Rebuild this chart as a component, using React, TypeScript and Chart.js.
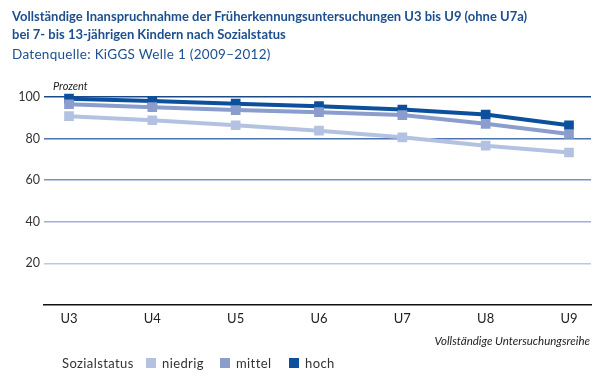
import React, { useEffect, useRef } from "react";
import { Chart, registerables } from "chart.js";

Chart.register(...registerables);

const categories = ["U3", "U4", "U5", "U6", "U7", "U8", "U9"];
const niedrig = [90.8, 88.8, 86.4, 83.8, 80.6, 76.6, 73.3];
const mittel = [96.5, 95.1, 93.7, 92.7, 91.3, 87.1, 82.2];
const hoch = [99.2, 98.1, 96.8, 95.6, 94.0, 91.6, 86.4];
const yTicks = [0, 20, 40, 60, 80, 100];

const colNiedrig = "#b4c2e2";
const colMittel = "#8a9dcc";
const colHoch = "#0c4f9c";
const gridColors: Record<number, string> = {
  100: "#1c4a88",
  80: "#4f73b0",
  60: "#7693c8",
  40: "#9db0d9",
  20: "#b9c8e8",
  0: "rgba(0,0,0,0)",
};

const FONT = "Lato, 'Open Sans', sans-serif";

export default function App() {
  const ref = useRef<HTMLCanvasElement | null>(null);

  useEffect(() => {
    if (!ref.current) return;
    const mk = (label: string, values: number[], color: string) => ({
      label,
      data: values.map((v, i) => ({ x: i, y: v })),
      borderColor: color,
      backgroundColor: color,
      borderWidth: 4,
      pointStyle: "rect" as const,
      pointRadius: 4,
      pointHoverRadius: 4,
      clip: false as const,
    });
    const chart = new Chart(ref.current, {
      type: "line",
      data: {
        datasets: [
          mk("niedrig", niedrig, colNiedrig),
          mk("mittel", mittel, colMittel),
          mk("hoch", hoch, colHoch),
        ],
      },
      options: {
        animation: false,
        responsive: false,
        maintainAspectRatio: false,
        layout: { padding: { top: 97, right: 13, left: 0, bottom: 0 } },
        plugins: { legend: { display: false }, tooltip: { enabled: false } },
        scales: {
          x: {
            type: "linear",
            min: -0.3,
            max: 6.264,
            afterBuildTicks: (axis: any) => {
              axis.ticks = categories.map((_, i) => ({ value: i }));
            },
            afterFit: (axis: any) => {
              axis.height = 79;
            },
            ticks: {
              padding: 6,
              color: "#222",
              font: { family: FONT, size: 13 },
              callback: (v: any) => categories[Number(v)] ?? "",
              maxRotation: 0,
              autoSkip: false,
            },
            grid: { display: false, drawTicks: false },
            border: { display: true, color: "#111", width: 1.5 },
          },
          y: {
            min: 0,
            max: 100,
            afterBuildTicks: (axis: any) => {
              axis.ticks = yTicks.map((v) => ({ value: v }));
            },
            afterFit: (axis: any) => {
              axis.width = 44;
            },
            ticks: {
              padding: 4,
              color: "#333",
              font: { family: FONT, size: 12.5 },
              callback: (v: any) => (Number(v) === 0 ? "" : String(v)),
            },
            grid: {
              drawTicks: false,
              lineWidth: 1.5,
              color: (ctx: any) => gridColors[ctx.tick?.value] ?? "#ccc",
            },
            border: { display: false },
          },
        },
      },
    });
    return () => chart.destroy();
  }, []);

  const legendItem = (label: string, color: string, left: number) => (
    <div
      style={{
        position: "absolute",
        left,
        top: 355,
        display: "flex",
        alignItems: "center",
        fontSize: 13,
        letterSpacing: 0.4,
        color: "#333",
      }}
    >
      <span
        style={{ display: "inline-block", width: 10, height: 10, background: color, marginRight: 6 }}
      />
      {label}
    </div>
  );

  return (
    <div
      style={{
        position: "relative",
        width: 604,
        height: 384,
        margin: -8,
        fontFamily: FONT,
        background: "#fff",
        overflow: "hidden",
      }}
    >
      <canvas ref={ref} width={604} height={384} style={{ position: "absolute", left: 0, top: 0 }} />
      <div
        style={{
          position: "absolute",
          left: 12,
          top: 7,
          fontSize: 13,
          fontWeight: 700,
          color: "#1d4f8e",
          lineHeight: "18px",
        }}
      >
        Vollständige Inanspruchnahme der Früherkennungsuntersuchungen U3 bis U9 (ohne U7a)
        <br />
        bei 7- bis 13-jährigen Kindern nach Sozialstatus
      </div>
      <div
        style={{
          position: "absolute",
          left: 12,
          top: 45,
          fontSize: 13.5,
          letterSpacing: 0.3,
          color: "#1d4f8e",
          lineHeight: "18px",
        }}
      >
        Datenquelle: KiGGS Welle 1 (2009–2012)
      </div>
      <div
        style={{
          position: "absolute",
          left: 53,
          top: 79,
          fontSize: 11,
          fontStyle: "italic",
          color: "#222",
        }}
      >
        Prozent
      </div>
      <div
        style={{
          position: "absolute",
          right: 14,
          top: 334,
          fontSize: 11.5,
          fontStyle: "italic",
          color: "#222",
        }}
      >
        Vollständige Untersuchungsreihe
      </div>
      <div
        style={{
          position: "absolute",
          left: 62,
          top: 355,
          fontSize: 13,
          letterSpacing: 0.4,
          color: "#333",
        }}
      >
        Sozialstatus
      </div>
      {legendItem("niedrig", colNiedrig, 146)}
      {legendItem("mittel", colMittel, 220)}
      {legendItem("hoch", colHoch, 289)}
    </div>
  );
}
